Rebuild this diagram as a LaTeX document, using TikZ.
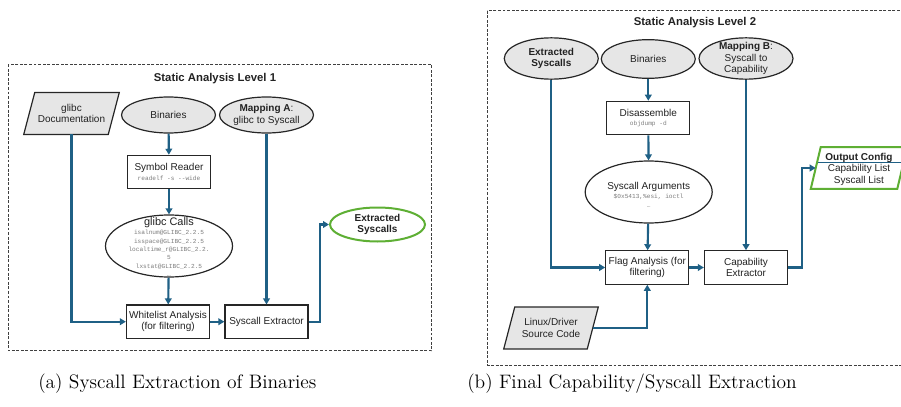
\documentclass[tikz,border=0pt]{standalone}
\usepackage{fontspec}
\newfontfamily\arial{Liberation Sans}
\newfontfamily\cour{Liberation Mono}
\usetikzlibrary{arrows.meta,shapes.geometric,calc}
\definecolor{conncol}{RGB}{31,96,133}
\definecolor{okgreen}{RGB}{94,175,52}
\definecolor{fillgray}{RGB}{230,230,230}
\definecolor{txtcol}{RGB}{34,34,34}
\definecolor{codegray}{RGB}{125,125,125}
\newcommand\codetxt[1]{{\cour\fontsize{4.6}{6.2}\selectfont\color{codegray}#1}}
\tikzset{
  conn/.style={draw=conncol, line width=1.6pt, -{Triangle[length=4.5pt,width=5pt]}},
  lbl/.style={align=center, inner sep=0pt, text=txtcol, font=\arial\fontsize{7.5}{8.5}\selectfont},
  procbox/.style={draw=black!85, line width=0.9pt, fill=white, minimum width=62.25pt, minimum height=25pt, inner sep=0pt},
  srcell/.style={ellipse, draw=black!85, line width=0.9pt, fill=fillgray, minimum width=70.5pt, minimum height=27pt, inner sep=0pt},
  bigell/.style={ellipse, draw=black!85, line width=0.9pt, fill=white, minimum width=95.25pt, minimum height=46.5pt, inner sep=0pt},
  goodell/.style={ellipse, draw=okgreen, line width=1.5pt, fill=white, minimum width=71.25pt, minimum height=25.5pt, inner sep=0pt},
  paraanchor/.style={rectangle, minimum width=63pt, minimum height=31pt, inner sep=0pt},
  groupbox/.style={draw=black!75, line width=0.75pt, dash pattern=on 2.2pt off 1.2pt},
  paraline/.style={draw=black!85, line width=0.9pt, fill=fillgray},
  title/.style={inner sep=0pt, text=txtcol, font=\arial\bfseries\fontsize{8.5}{10}\selectfont},
  caption/.style={inner sep=0pt, font=\fontsize{14.6}{17}\selectfont}
}
\begin{document}
\begin{tikzpicture}[x=0.75pt, y=-0.75pt]
\useasboundingbox (0,0) rectangle (901,407);

% ---------- panel (a) ----------
\draw[groupbox] (8,64.3) rectangle (431.7,350.7);
\node[title] (title1) at (215,79) {Static Analysis Level 1};

\node[paraanchor] (doc1) at (71.5,113.5) {};
\draw[paraline] ($(doc1.south west)+(-5.5,0)$) -- ($(doc1.south east)+(-5.5,0)$) -- ($(doc1.north east)+(5.5,0)$) -- ($(doc1.north west)+(5.5,0)$) -- cycle;
\node[lbl] (doc1t) at (doc1) {glibc\\Documentation};

\node[srcell, label={[lbl]center:Binaries}] (bin1) at (168.5,115) {};
\node[srcell, label={[lbl]center:{\textbf{Mapping A}:\\glibc to Syscall}}] (mapA) at (266.5,115) {};

\node[procbox, label={[lbl]center:{Symbol Reader\\[-1.6pt]\codetxt{readelf -s --wide}}}] (sym) at (169,172) {};

\node[bigell] (calls) at (169,246) {};
\node[lbl, font=\arial\fontsize{7.5}{6.2}\selectfont] (callst) at ($(calls)+(0,1)$) {{\fontsize{8.2}{6.2}\selectfont glibc Calls}\\[0.8pt]\codetxt{isalnum@GLIBC\_2.2.5}\\\codetxt{isspace@GLIBC\_2.2.5}\\\codetxt{localtime\_r@GLIBC\_2.2.}\\\codetxt{5}\\\codetxt{lxstat@GLIBC\_2.2.5}\\\codetxt{…}};

\node[procbox, label={[lbl]center:{Whitelist Analysis\\(for filtering)}}] (wl) at (168,321.7) {};
\node[procbox, label={[lbl]center:{Syscall Extractor}}] (ext) at (266.5,321.7) {};

\node[goodell, label={[lbl]center:{\textbf{Extracted}\\\textbf{Syscalls}}}] (out1) at (377.5,224.5) {};

\draw[conn] (doc1.south) |- (wl.west);
\draw[conn] (bin1) -- (sym);
\draw[conn] (sym) -- (calls);
\draw[conn] (calls) -- (wl);
\draw[conn] (mapA) -- (ext);
\draw[conn] (wl) -- (ext);
\draw[conn] (ext.east) -- ++(11,0) |- (out1.west);

% ---------- panel (b) ----------
\draw[groupbox] (487.3,10.7) rectangle (915,365);
\node[title] (title2) at (695,22.3) {Static Analysis Level 2};

\node[srcell, minimum height=31pt, label={[lbl]center:{\textbf{Extracted}\\\textbf{Syscalls}}}] (es2) at (551.3,58.5) {};
\node[srcell, minimum height=29pt, label={[lbl]center:Binaries}] (bin2) at (648.3,59) {};
\node[srcell, minimum height=31pt, label={[lbl]center:{\textbf{Mapping B}:\\Syscall to\\Capability}}] (mapB) at (746,58.5) {};

\node[procbox, label={[lbl]center:{Disassemble\\[-1.2pt]\codetxt{objdump -d}}}] (dis) at (648.3,118) {};

\node[bigell] (args) at (648.7,192) {};
\node[lbl, font=\arial\fontsize{7.5}{6.8}\selectfont] (argst) at ($(args)+(0,3)$) {Syscall Arguments\\\codetxt{\$0x5413,\%esi, ioctl}\\\codetxt{…}};

\node[procbox, label={[lbl]center:{Flag Analysis (for\\filtering)}}] (flag) at (647.3,267.5) {};
\node[procbox, label={[lbl]center:{Capability\\Extractor}}] (cap) at (746,267.5) {};

\node[paraanchor, minimum width=62.25pt] (linux) at (551,328) {};
\draw[paraline] ($(linux.south west)+(-5.5,0)$) -- ($(linux.south east)+(-5.5,0)$) -- ($(linux.north east)+(5.5,0)$) -- ($(linux.north west)+(5.5,0)$) -- cycle;
\node[lbl] (linuxt) at (linux) {Linux/Driver\\Source Code};

\node[paraanchor, minimum width=64.5pt] (outc) at (859,168) {};
\draw[draw=okgreen, line width=1.5pt, fill=white] ($(outc.south west)+(-5,0)$) -- ($(outc.south east)+(-5,0)$) -- ($(outc.north east)+(5,0)$) -- ($(outc.north west)+(5,0)$) -- cycle;
\coordinate (sepL) at (817.6,162.3);
\coordinate (sepR) at (903.4,162.3);
\draw[conncol, line width=0.6pt] (sepL) -- (sepR);
\node[lbl, font=\arial\fontsize{7.5}{8.6}\selectfont] (outct) at ($(outc)+(0,1)$) {\textbf{Output Config}\\Capability List\\Syscall List};

\draw[conn] (es2.south) |- (flag.west);
\draw[conn] (bin2) -- (dis);
\draw[conn] (dis) -- (args);
\draw[conn] (args) -- (flag);
\draw[conn] (mapB) -- (cap);
\draw[conn] (flag) -- (cap);
\draw[conn] (linux.east) -| (flag.south);
\draw[conn] (cap.east) -- ++(14,0) |- (outc.west);

% ---------- captions ----------
\node[caption, anchor=west] (capa) at (38,384) {(a) Syscall Extraction of Binaries};
\node[caption, anchor=west] (capb) at (467,384) {(b) Final Capability/Syscall Extraction};
\end{tikzpicture}
\end{document}
